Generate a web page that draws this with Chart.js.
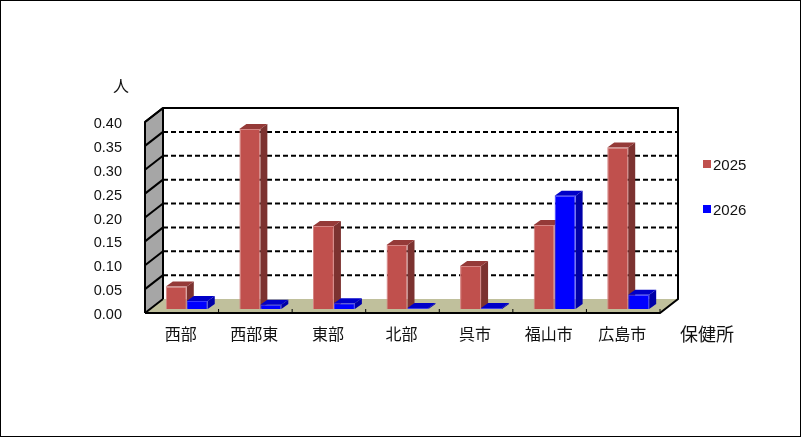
<!DOCTYPE html>
<html lang="ja">
<head>
<meta charset="utf-8">
<title>保健所</title>
<script src="https://cdn.jsdelivr.net/npm/chart.js@4/dist/chart.umd.min.js"></script>
<style>
  html, body { margin: 0; padding: 0; background: #fff; }
  canvas { display: block; }
</style>
</head>
<body>
<canvas id="chart" width="801" height="437"></canvas>
<script>
const categories = ["西部", "西部東", "東部", "北部", "呉市", "福山市", "広島市"];
const values2025 = [0.047, 0.377, 0.174, 0.134, 0.09, 0.176, 0.338];
const values2026 = [0.017, 0.009, 0.012, 0.002, 0.002, 0.237, 0.03];
const seriesNames = ["2025", "2026"];
const unitTitle = "人";
const categoryTitle = "保健所";

const jpFont = '"Noto Sans CJK JP"';
const numFont = '"Liberation Sans"';
const depthX = 18, depthY = 14;     // wall depth
const barDepthX = 7, barDepthY = 5; // bar depth
const barShiftX = 5, barShiftY = 4; // bars stand a little inside the floor

function polygon(ctx, points, fill) {
  ctx.beginPath();
  points.forEach((p, i) => (i ? ctx.lineTo(p[0], p[1]) : ctx.moveTo(p[0], p[1])));
  ctx.closePath();
  ctx.fillStyle = fill;
  ctx.fill();
}

const box3d = {
  id: "box3d",
  beforeDraw(chart) {
    const ctx = chart.ctx;
    const { left, right, top, bottom } = chart.chartArea;
    const dx = depthX, dy = depthY;
    ctx.save();

    // walls and floor
    polygon(ctx, [[left + dx, top - dy], [right + dx, top - dy], [right + dx, bottom - dy], [left + dx, bottom - dy]], "#ffffff");
    polygon(ctx, [[left, top], [left + dx, top - dy], [left + dx, bottom - dy], [left, bottom]], "#a6a6a6");
    polygon(ctx, [[left, bottom], [left + dx, bottom - dy], [right + dx, bottom - dy], [right, bottom]], "#c0c09c");

    // grid
    ctx.strokeStyle = "#000";
    ctx.lineWidth = 2;
    chart.scales.y.ticks.forEach((tick) => {
      const y = chart.scales.y.getPixelForValue(tick.value);
      ctx.setLineDash([]);
      ctx.beginPath();
      ctx.moveTo(left, y);
      ctx.lineTo(left + dx, y - dy);
      ctx.stroke();
      if (tick.value > 0 && tick.value < 0.4) {
        ctx.setLineDash([5, 3]);
        ctx.beginPath();
        ctx.moveTo(left + dx, y - dy);
        ctx.lineTo(right + dx, y - dy);
        ctx.stroke();
      }
    });
    ctx.setLineDash([]);

    // box outline
    ctx.beginPath();
    ctx.moveTo(left, bottom);
    ctx.lineTo(left, top);
    ctx.lineTo(left + dx, top - dy);
    ctx.lineTo(right + dx, top - dy);
    ctx.lineTo(right + dx, bottom - dy);
    ctx.lineTo(right, bottom);
    ctx.lineTo(left, bottom);
    ctx.moveTo(left + dx, top - dy);
    ctx.lineTo(left + dx, bottom - dy);
    ctx.stroke();

    // x tick marks between categories
    ctx.lineWidth = 1;
    const step = (right - left) / categories.length;
    for (let i = 1; i <= categories.length; i++) {
      ctx.beginPath();
      ctx.moveTo(left + step * i, bottom);
      ctx.lineTo(left + step * i, bottom - 4);
      ctx.stroke();
    }
    ctx.restore();
  },
  // red first, blue over it, each with its own side and top faces
  beforeDatasetsDraw(chart) {
    const ctx = chart.ctx;
    ctx.save();
    ctx.translate(barShiftX, -barShiftY);
    chart.data.datasets.forEach((ds, i) => {
      const meta = chart.getDatasetMeta(i);
      meta.data.forEach((bar) => {
        const r = bar.x + bar.width / 2;
        const l = bar.x - bar.width / 2;
        polygon(ctx, [[r, bar.y], [r + barDepthX, bar.y - barDepthY], [r + barDepthX, bar.base - barDepthY], [r, bar.base]], ds.sideColor);
        polygon(ctx, [[l, bar.y], [l + barDepthX, bar.y - barDepthY], [r + barDepthX, bar.y - barDepthY], [r, bar.y]], ds.topColor);
      });
      meta.controller.draw();
    });
    ctx.restore();
    return false;
  },
  afterDraw(chart) {
    const ctx = chart.ctx;
    ctx.save();
    ctx.fillStyle = "#111";
    ctx.textAlign = "center";
    ctx.textBaseline = "middle";
    ctx.font = "16px " + jpFont;
    ctx.fillText(unitTitle, 121, 86);
    ctx.font = "18px " + jpFont;
    ctx.fillText(categoryTitle, 707, 334);

    // legend
    ctx.textAlign = "left";
    ctx.font = "15px " + numFont;
    seriesNames.forEach((name, i) => {
      const y = 164 + i * 45;
      ctx.fillStyle = chart.data.datasets[i].backgroundColor;
      ctx.fillRect(703, y - 4, 8, 8);
      ctx.fillStyle = "#111";
      ctx.fillText(name, 713, y + 2);
    });

    // image frame
    ctx.strokeStyle = "#000";
    ctx.lineWidth = 1;
    ctx.strokeRect(0.5, 0.5, 800, 436);
    ctx.restore();
  }
};

new Chart(document.getElementById("chart"), {
  type: "bar",
  data: {
    labels: categories,
    datasets: [
      { label: seriesNames[0], data: values2025, backgroundColor: "#c0504d", borderColor: "#d58583", borderWidth: 1, sideColor: "#7c3230", topColor: "#953a38" },
      { label: seriesNames[1], data: values2026, backgroundColor: "#0000ff", borderColor: "#3a3aff", borderWidth: 1, sideColor: "#0000a8", topColor: "#0000c8" }
    ]
  },
  options: {
    responsive: false,
    animation: false,
    layout: { padding: { top: 122, right: 141, bottom: 0, left: 0 } },
    datasets: { bar: { categoryPercentage: 0.57, barPercentage: 1 } },
    plugins: {
      tooltip: { enabled: false },
      legend: { display: false }
    },
    scales: {
      x: {
        grid: { display: false },
        border: { display: false },
        afterFit: (s) => { s.height = 124; },
        ticks: { color: "#111", padding: 3, labelOffset: -1, maxRotation: 0, font: { family: jpFont, size: 16 } }
      },
      y: {
        min: 0,
        max: 0.4,
        grid: { display: false },
        border: { display: false },
        afterFit: (s) => { s.width = 145; },
        ticks: { stepSize: 0.05, color: "#111", padding: 15, labelOffset: 2, font: { family: numFont, size: 14.5 }, callback: (v) => v.toFixed(2) }
      }
    }
  },
  plugins: [box3d]
});
</script>
</body>
</html>
